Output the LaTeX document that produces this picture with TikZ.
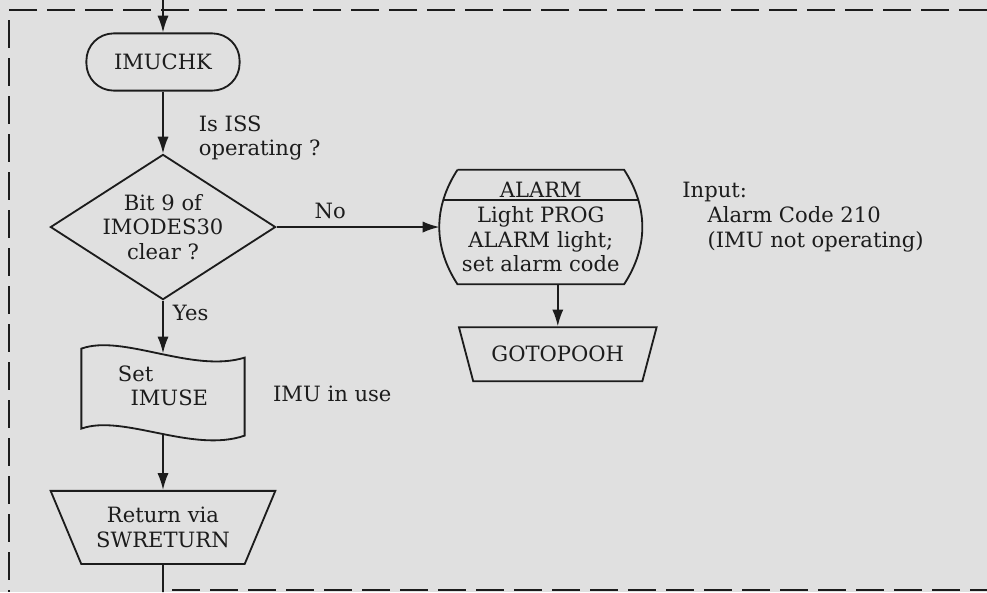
\documentclass[tikz,border=0pt]{standalone}
\usepackage{fontspec}
\setmainfont{DejaVu Serif}
\usetikzlibrary{positioning,arrows.meta,calc,shapes.geometric}
\definecolor{PaperGray}{RGB}{224,224,224}
\definecolor{InkBlack}{RGB}{28,28,28}
\newcommand{\chartfont}{\fontsize{15}{17.7}\selectfont}
\tikzset{
  flow/.style={-{Latex[length=4.2mm,width=2.8mm]},line width=1.3pt,draw=InkBlack},
  plainline/.style={line width=1.3pt,draw=InkBlack},
  outline/.style={line width=1.3pt,draw=InkBlack},
  frameline/.style={line width=1.6pt,draw=InkBlack,dash pattern=on 0.7cm off 0.25cm},
  termbox/.style={draw=InkBlack,line width=1.3pt,rounded corners=0.68cm,
    minimum width=3.83cm,minimum height=1.43cm,align=center,font=\chartfont,text=InkBlack},
  decisionbox/.style={diamond,draw=InkBlack,line width=1.3pt,aspect=1.55,inner sep=0pt,
    minimum width=5.63cm,minimum height=3.63cm,align=center,font=\chartfont,text=InkBlack},
  alarmbox/.style={minimum width=5.05cm,minimum height=2.85cm,inner sep=0pt,
    align=center,font=\chartfont,text=InkBlack},
  tapebox/.style={minimum width=4.08cm,minimum height=2cm,inner sep=0pt,
    align=left,font=\chartfont,text=InkBlack},
  exitbox/.style={trapezium,shape border rotate=180,trapezium left angle=60,
    trapezium right angle=60,trapezium stretches=true,draw=InkBlack,line width=1.3pt,
    inner sep=0.05cm,align=center,font=\chartfont,text=InkBlack},
  notetext/.style={inner sep=0pt,align=left,font=\chartfont,text=InkBlack}
}

\begin{document}
\begin{tikzpicture}[node distance=1cm]
  \fill[PaperGray] (0,0) rectangle (24.675,-14.8);
  \useasboundingbox (0,0) rectangle (24.675,-14.8);

  % dashed frame of the routine
  \draw[frameline] (24.675,-0.25) -- (0.225,-0.25) -- (0.225,-14.8);
  \draw[frameline] (4.3,-14.75) -- (24.675,-14.75);

  \node[termbox] (imuchk) at (4.075,-1.55) {IMUCHK};
  \node[decisionbox,below=1.55cm of imuchk] (bitnine) {Bit 9 of\\IMODES30\\clear ?};
  \node[alarmbox,right=4.075cm of bitnine] (alarm)
    {ALARM\\Light PROG\\ALARM light;\\set alarm code};
  \node[exitbox,below=1.05cm of alarm,xshift=0.425cm,
    minimum width=4.95cm,minimum height=1.35cm] (gotopooh) {GOTOPOOH};
  \node[notetext,right=1.0cm of alarm,yshift=0.25cm] (alarminput)
    {Input:\\\hspace*{1.2em}Alarm Code 210\\\hspace*{1.2em}(IMU not operating)};
  \node[tapebox,below=1.32cm of bitnine] (setuse)
    {Set\\\hspace*{0.6em}IMUSE\rule[-0.4cm]{0pt}{1pt}};
  \node[notetext,right=0.7cm of setuse] (usenote) {IMU in use};
  \node[exitbox,below=1.4cm of setuse,
    minimum width=5.63cm,minimum height=1.83cm] (swreturn) {Return via\\SWRETURN};

  % alarm box outline with bulged sides
  \draw[outline] ([xshift=0.45cm]alarm.north west) -- ([xshift=-0.45cm]alarm.north east)
    to[bend left=33] ([xshift=-0.45cm]alarm.south east) -- ([xshift=0.45cm]alarm.south west)
    to[bend left=33] ([xshift=0.45cm]alarm.north west);
  \draw[outline] ([xshift=0.1cm,yshift=-0.75cm]alarm.north west)
    -- ([xshift=-0.1cm,yshift=-0.75cm]alarm.north east);

  % punched tape outline of the set box
  \draw[outline,shift={(setuse.center)}] (-2.04,1.125)
    .. controls (-1.01,1.5) and (0.74,0.5) .. (2.04,0.9) -- (2.04,-1.05)
    .. controls (0.74,-1.5) and (-1.01,-0.5) .. (-2.04,-0.875) -- cycle;

  % connectors
  \coordinate (entry) at (imuchk.north |- 0,0);
  \coordinate (exit) at (swreturn.south |- 0,-14.8);
  \draw[flow] (entry) -- (imuchk);
  \draw[flow] (imuchk) -- node[notetext,pos=0.75,anchor=west,xshift=0.875cm]
    {Is ISS\\operating ?} (bitnine);
  \draw[flow] (bitnine) -- node[notetext,pos=0.33,above,yshift=0.175cm] {No} (alarm);
  \draw[flow] (gotopooh.north |- alarm.south) -- (gotopooh.north);
  \draw[flow] (bitnine) -- node[notetext,pos=0.23,anchor=west,xshift=0.225cm] {Yes} (setuse);
  \draw[flow] (setuse) -- (swreturn);
  \draw[plainline] (swreturn) -- (exit);
\end{tikzpicture}
\end{document}
